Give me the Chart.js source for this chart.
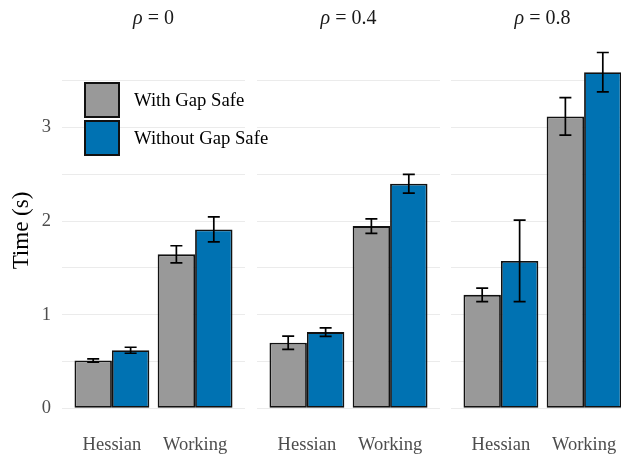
<!DOCTYPE html>
<html>
<head>
<meta charset="utf-8">
<script src="https://cdn.jsdelivr.net/npm/chart.js@4.4.0/dist/chart.umd.min.js"></script>
<style>
  html, body { margin: 0; padding: 0; background: #fff; }
  body { width: 621px; height: 456px; position: relative; overflow: hidden; font-family: "Liberation Serif", "Times New Roman", serif; }
  canvas { position: absolute; top: 0; }
  .strip { position: absolute; top: 4px; height: 26px; line-height: 26px; text-align: center; font-size: 20px; color: #1a1a1a; }
  .legend { position: absolute; left: 84px; top: 82px; }
  .legend-row { display: flex; align-items: flex-start; height: 38px; }
  .legend-box { width: 32px; height: 32px; border: 2px solid #111; }
  .legend-text { margin-left: 14px; line-height: 36px; font-size: 18.7px; color: #000; white-space: nowrap; }
</style>
</head>
<body>
<canvas id="p0" width="245" height="456" style="left:0"></canvas>
<canvas id="p1" width="183" height="456" style="left:257px"></canvas>
<canvas id="p2" width="183" height="456" style="left:451px"></canvas>
<div id="strips"></div>
<div class="legend" id="legend"></div>
<script>
const methods = ["Hessian", "Working"];
const rhoLabels = ["0", "0.4", "0.8"];
const seriesNames = ["With Gap Safe", "Without Gap Safe"];

// mean time (s) per rho panel, [Hessian, Working]
const withGapSafe = [[0.51, 1.645], [0.70, 1.947], [1.212, 3.12]];
const withGapSafeErr = [[0.018, 0.092], [0.071, 0.077], [0.073, 0.20]];
const withoutGapSafe = [[0.62, 1.912], [0.814, 2.40], [1.575, 3.593]];
const withoutGapSafeErr = [[0.032, 0.134], [0.045, 0.10], [0.436, 0.21]];

const yTicks = [0, 0.5, 1, 1.5, 2, 2.5, 3, 3.5];

const colors = ["#999999", "#0072B2"];
const panelLeft = [62, 257, 451];
const panelWidth = 183;

// whiskers on top of every bar
const errorBars = {
    id: "errorBars",
    afterDatasetsDraw(chart) {
        const ctx = chart.ctx;
        const y = chart.scales.y;
        ctx.save();
        ctx.strokeStyle = "#000";
        ctx.lineWidth = 1.7;
        chart.data.datasets.forEach((ds, i) => {
            chart.getDatasetMeta(i).data.forEach((bar, j) => {
                const v = ds.data[j].y, e = ds.errors[j];
                const top = y.getPixelForValue(v + e);
                const bot = y.getPixelForValue(v - e);
                const half = 6;
                ctx.beginPath();
                ctx.moveTo(bar.x - half, top); ctx.lineTo(bar.x + half, top);
                ctx.moveTo(bar.x, top); ctx.lineTo(bar.x, bot);
                ctx.moveTo(bar.x - half, bot); ctx.lineTo(bar.x + half, bot);
                ctx.stroke();
            });
        });
        ctx.restore();
    }
};

const makePanel = (index) => {
    const first = index === 0;
    const series = [withGapSafe[index], withoutGapSafe[index]];
    const errs = [withGapSafeErr[index], withoutGapSafeErr[index]];

    const datasets = seriesNames.map((name, s) => ({
        label: name,
        data: methods.map((m, k) => ({ x: k + 1, y: series[s][k] })),
        errors: errs[s],
        backgroundColor: colors[s],
        borderColor: "#111",
        borderWidth: 1.8,
        borderSkipped: false,
        categoryPercentage: 0.9,
        barPercentage: 1.0
    }));

    new Chart(document.getElementById("p" + index), {
        type: "bar",
        data: { datasets },
        options: {
            responsive: false,
            animation: false,
            layout: { padding: { top: 35, left: 0, right: 0, bottom: 0 } },
            plugins: { legend: { display: false }, tooltip: { enabled: false } },
            scales: {
                x: {
                    type: "linear",
                    min: 0.4,
                    max: 2.6,
                    offset: false,
                    afterBuildTicks: (scale) => { scale.ticks = methods.map((m, k) => ({ value: k + 1 })); },
                    afterFit: (scale) => { scale.height = 30; },
                    grid: { display: false, drawTicks: false, offset: false },
                    border: { display: false },
                    ticks: {
                        autoSkip: false,
                        maxRotation: 0,
                        padding: 8,
                        color: "#4d4d4d",
                        font: { family: "Liberation Serif", size: 18.5 },
                        callback: (v) => methods[v - 1]
                    }
                },
                y: {
                    min: -0.19,
                    max: 3.99,
                    afterBuildTicks: (scale) => { scale.ticks = yTicks.map(v => ({ value: v })); },
                    afterFit: (scale) => { scale.width = first ? 62 : 0; },
                    grid: { color: "#ebebeb", lineWidth: 1, drawTicks: false },
                    border: { display: false },
                    ticks: {
                        display: first,
                        padding: 11,
                        color: "#4d4d4d",
                        font: { family: "Liberation Serif", size: 18.5 },
                        callback: (v) => Number.isInteger(v) ? v : ""
                    },
                    title: {
                        display: first,
                        text: "Time (s)",
                        color: "#000",
                        padding: { top: 8, bottom: 0 },
                        font: { family: "Liberation Serif", size: 23 }
                    }
                }
            }
        },
        plugins: [errorBars]
    });
};

rhoLabels.forEach((r, i) => {
    makePanel(i);
    const strip = document.createElement("div");
    strip.className = "strip";
    strip.style.left = panelLeft[i] + "px";
    strip.style.width = panelWidth + "px";
    strip.innerHTML = "<i>\u03C1</i> = " + r;
    document.getElementById("strips").appendChild(strip);
});

// legend rows from the series names
const legend = document.getElementById("legend");
seriesNames.forEach((name, s) => {
    const row = document.createElement("div");
    row.className = "legend-row";
    row.innerHTML = `<div class="legend-box" style="background:${colors[s]}"></div><div class="legend-text">${name}</div>`;
    legend.appendChild(row);
});
</script>
</body>
</html>
